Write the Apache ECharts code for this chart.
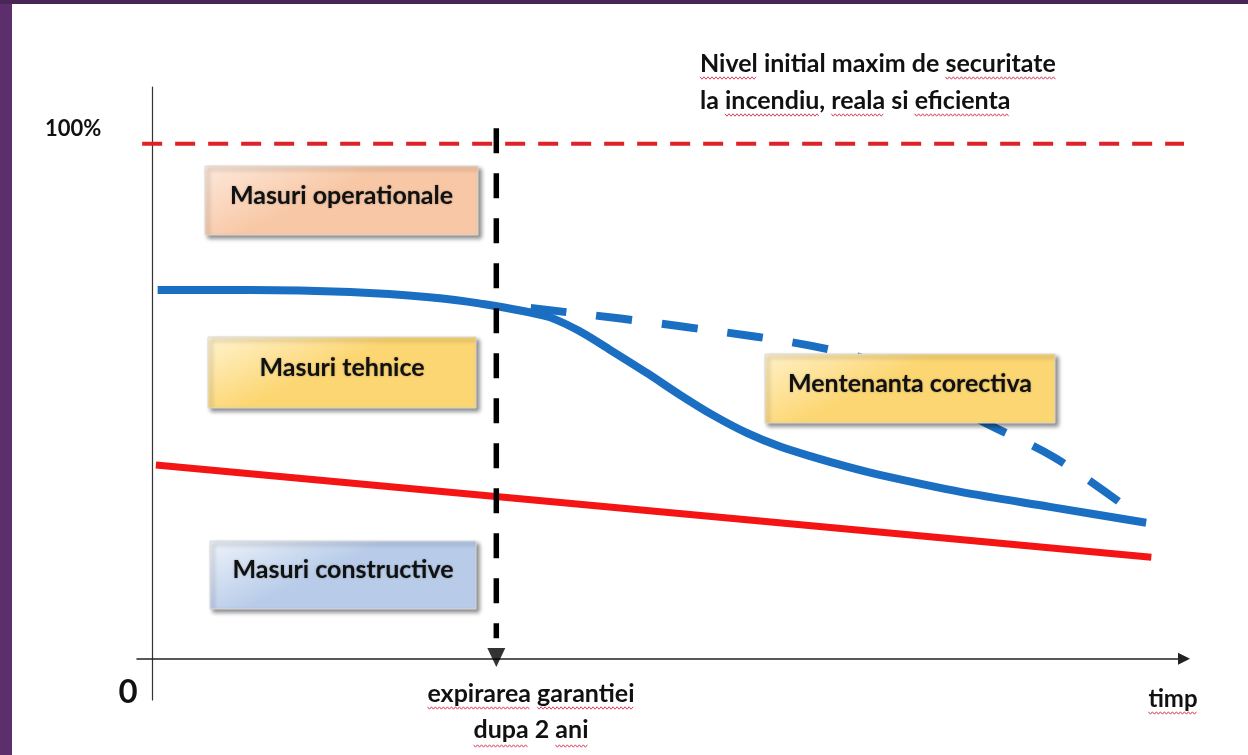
<!DOCTYPE html>
<html>
<head>
<meta charset="utf-8">
<script src="https://cdn.jsdelivr.net/npm/echarts@6/dist/echarts.min.js"></script>
<style>
  html, body { margin: 0; padding: 0; background: #ffffff; }
  #chart { width: 1248px; height: 755px; }
</style>
</head>
<body>
<div id="chart"></div>
<script>
// nivelul de securitate (%) in functie de timp (ani)
var tehniceAni = [0.03, 0.57, 1.15, 1.61, 1.9, 2.3, 2.49, 2.68, 2.88, 3.07, 3.26, 3.46, 3.65, 3.84, 4.04, 4.23, 4.7, 5.22, 5.78];
var tehniceNivel = [71.6, 71.6, 71.2, 70.2, 69.0, 66.4, 63.5, 59.6, 55.4, 51.2, 47.3, 43.8, 41.2, 39.2, 37.3, 35.7, 32.4, 29.5, 26.4];

var corectivaAni = [2.2, 3.06, 3.93, 4.34, 4.69, 4.85, 5.25, 5.67];
var corectivaNivel = [68.1, 64.6, 60.1, 55.7, 48.6, 45.7, 39.0, 29.3];

var constructiveAni = [0.02, 5.81];
var constructiveNivel = [37.6, 19.7];

var nivelMaxim = 100;
var nivelMaximAni = [-0.06, 6.0];
var garantieAni = 2;
var garantieNivel = [103, 4];

function pereche(xs, ys) {
  var out = [];
  for (var i = 0; i < xs.length; i++) out.push([xs[i], ys[i]]);
  return out;
}

var font = 'Lato, "Open Sans", sans-serif';
var ctx = document.createElement('canvas').getContext('2d');
function latime(str, f) {
  ctx.font = f;
  return ctx.measureText(str).width;
}

// linie de text cu sublinierea ondulata a corectorului
function rand(x, y, str, size, align, cuvinte, dy) {
  var f = 'bold ' + size + 'px ' + font;
  var total = latime(str, f);
  var x0 = align === 'center' ? x - total / 2 : x;
  var out = [{
    type: 'text', z: 100,
    style: { x: x0, y: y, text: str, verticalAlign: 'middle', font: f, fill: '#111111' }
  }];
  (cuvinte || []).forEach(function (w) {
    var i = str.indexOf(w);
    var a = x0 + latime(str.slice(0, i), f);
    var b = a + latime(w, f);
    var pts = [];
    for (var k = 0, px = a; px <= b; k++, px += 2) pts.push([px, y + dy + (k % 2 ? 1.2 : -1.2)]);
    out.push({
      type: 'polyline', z: 101, shape: { points: pts },
      style: { stroke: '#d8405c', lineWidth: 1, fill: null }
    });
  });
  return out;
}

function caseta(x, y, w, h, text, c1, c2) {
  return {
    type: 'group',
    x: x, y: y,
    children: [
      {
        type: 'rect', z: 100,
        shape: { x: 0, y: 0, width: w, height: h },
        style: {
          fill: new echarts.graphic.LinearGradient(0, 0, 0.12, 1, [
            { offset: 0, color: c1 }, { offset: 1, color: c2 }
          ]),
          stroke: '#d8d8d8', lineWidth: 1,
          shadowColor: 'rgba(0,0,0,0.45)', shadowBlur: 4,
          shadowOffsetX: 3, shadowOffsetY: 3
        }
      },
      {
        type: 'text', z: 101,
        style: {
          x: w / 2, y: h / 2 - 5, text: text,
          align: 'center', verticalAlign: 'middle',
          font: 'bold 25px ' + font, fill: '#111111',
          textShadowColor: 'rgba(0,0,0,0.35)', textShadowBlur: 2
        }
      }
    ]
  };
}

var myChart = echarts.init(document.getElementById('chart'));

var graphic = [
  { type: 'rect', shape: { x: 0, y: 0, width: 12, height: 755 }, style: { fill: '#5c2e6c' }, z: 200 },
  { type: 'rect', shape: { x: 0, y: 0, width: 1248, height: 4 }, style: { fill: '#4a2656' }, z: 200 },
  caseta(205, 166, 273, 69, 'Masuri operationale', '#fde9dc', '#f8c8a6'),
  caseta(208, 337, 268, 71, 'Masuri tehnice', '#fff3d0', '#fcd672'),
  caseta(210, 541, 266, 68, 'Masuri constructive', '#eef3fa', '#b8cce9'),
  caseta(765, 354, 290, 69, 'Mentenanta corectiva', '#fff1c8', '#fcd672'),
  { type: 'text', z: 100, style: { x: 45, y: 129, text: '100%', verticalAlign: 'middle', font: 'bold 22px ' + font, fill: '#111111' } },
  { type: 'text', z: 100, style: { x: 128, y: 692, text: '0', align: 'center', verticalAlign: 'middle', font: 'bold 33px ' + font, fill: '#111111' } }
];
graphic = graphic
  .concat(rand(700, 64, 'Nivel initial maxim de securitate', 25, 'left', ['Nivel', 'securitate'], 14))
  .concat(rand(700, 101, 'la incendiu, reala si eficienta', 25, 'left', ['incendiu', 'reala', 'eficienta'], 14))
  .concat(rand(531, 694, 'expirarea garantiei', 25, 'center', ['expirarea', 'garantiei'], 14))
  .concat(rand(531, 730, 'dupa 2 ani', 25, 'center', ['dupa', 'ani'], 16))
  .concat(rand(1173, 699, 'timp', 24, 'center', ['timp'], 14));

var option = {
  animation: false,
  backgroundColor: '#ffffff',
  grid: { left: 137, top: 87, width: 1047, height: 613, containLabel: false },
  xAxis: {
    type: 'value', min: -0.09, max: 6.0,
    axisLine: {
      show: true, onZero: true,
      symbol: ['none', 'triangle'], symbolSize: [12, 12],
      lineStyle: { color: '#222222', width: 1.5 }
    },
    axisTick: { show: false }, axisLabel: { show: false }, splitLine: { show: false }
  },
  yAxis: {
    type: 'value', min: -8, max: 111,
    axisLine: { show: true, onZero: true, lineStyle: { color: '#333333', width: 1.2 } },
    axisTick: { show: false }, axisLabel: { show: false }, splitLine: { show: false }
  },
  series: [
    {
      name: 'nivel maxim', type: 'line', symbol: 'none', silent: true,
      data: pereche(nivelMaximAni, [nivelMaxim, nivelMaxim]),
      lineStyle: { color: '#dd2228', width: 4, type: [20, 13] }
    },
    {
      name: 'constructive', type: 'line', symbol: 'none', silent: true,
      data: pereche(constructiveAni, constructiveNivel),
      lineStyle: { color: '#f51414', width: 7, cap: 'butt' }
    },
    {
      name: 'corectiva', type: 'line', symbol: 'none', silent: true,
      smooth: 0.35,
      data: pereche(corectivaAni, corectivaNivel),
      lineStyle: { color: '#1b6fc2', width: 8, type: [36, 30], cap: 'butt' }
    },
    {
      name: 'tehnice', type: 'line', symbol: 'none', silent: true,
      smooth: 0.3,
      data: pereche(tehniceAni, tehniceNivel),
      lineStyle: { color: '#1b6fc2', width: 8, cap: 'butt' }
    },
    {
      name: 'garantie', type: 'line', symbol: 'none', silent: true,
      data: pereche([garantieAni, garantieAni], garantieNivel),
      lineStyle: { color: '#000000', width: 5.5, type: [25, 20], cap: 'butt' }
    },
    {
      name: 'garantie varf', type: 'scatter', silent: true,
      symbol: 'triangle', symbolRotate: 180, symbolSize: [18, 19],
      itemStyle: { color: '#000000' },
      data: [[garantieAni, 0.25]]
    }
  ],
  graphic: graphic
};

myChart.setOption(option);
</script>
</body>
</html>
